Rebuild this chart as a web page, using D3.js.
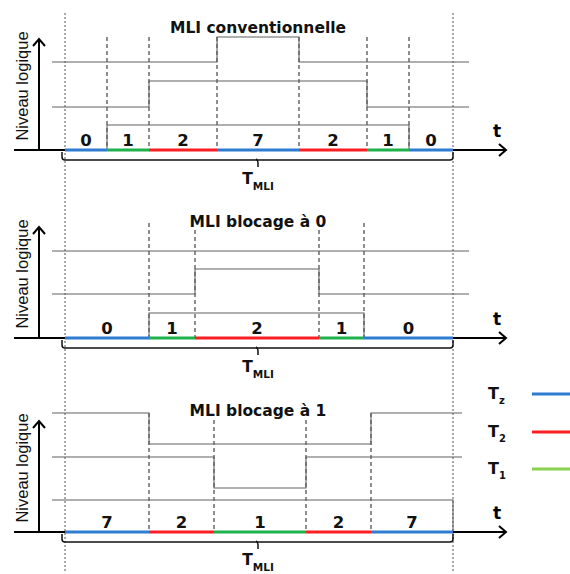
<!DOCTYPE html>
<html><head><meta charset="utf-8">
<script src="https://cdn.jsdelivr.net/npm/d3@7"></script>
<style>body{margin:0;background:#fff}svg{display:block}</style>
</head><body>
<script>
// ---- data ----
const panelTitles = ["MLI conventionnelle", "MLI blocage à 0", "MLI blocage à 1"];
const stateLabels1 = ["0","1","2","7","2","1","0"];
const durations1   = [42,42,68,82,68,42,44];
const stateLabels2 = ["0","1","2","1","0"];
const durations2   = [84,46,124,45,89];
const stateLabels3 = ["7","2","1","2","7"];
const durations3   = [84,65,92,65,82];
// logic levels of the three phase signals (lowest A, middle B, top C)
const levelsA1 = [0,25,25,25,25,25,0];
const levelsB1 = [43,43,69,69,69,43,43];
const levelsC1 = [88,88,88,113,88,88,88];
const levelsA2 = [0,25,25,25,0];
const levelsB2 = [44,44,69,44,44];
const levelsC2 = [87,87,87,87,87];
const levelsA3 = [32,32,32,32,32];
const levelsB3 = [75,75,44,75,75];
const levelsC3 = [119,88,88,88,119];
const postLevelA3 = 0;
const legendKeys = ["z","2","1"];

// ---- layout ----
const W = 570, H = 574;
const svg = d3.select("body").append("svg").attr("width", W).attr("height", H);
const x = d3.scaleLinear().domain([0, 388]).range([65, 453]);
const colorOf = {z: "#2d7cd2", "2": "#fb1e22", "1": "#1fb14c"};
const legendColor = {z: "#2d7cd2", "2": "#fb1e22", "1": "#88d04e"};
const typeOf = s => (s === "0" || s === "7") ? "z" : s;

const panels = [
  {title: panelTitles[0], labels: stateLabels1, durs: durations1, levels: [levelsA1, levelsB1, levelsC1], post: [null,null,null], base: 150, titleY: 33, dashTop: 113, ext: 404, tmY: 34},
  {title: panelTitles[1], labels: stateLabels2, durs: durations2, levels: [levelsA2, levelsB2, levelsC2], post: [null,null,null], base: 338, titleY: 227, dashTop: 115, ext: 404, tmY: 34},
  {title: panelTitles[2], labels: stateLabels3, durs: durations3, levels: [levelsA3, levelsB3, levelsC3], post: [postLevelA3,null,null], base: 532, titleY: 416, dashTop: 119, ext: 397, tmY: 33}
];

// outer dotted period lines
svg.selectAll("line.outer").data([0, 388]).join("line")
  .attr("x1", d => x(d)).attr("x2", d => x(d)).attr("y1", 13).attr("y2", 572)
  .attr("stroke", "#555").attr("stroke-width", 1).attr("stroke-dasharray", "2,2");

const bold = "'DejaVu Sans', sans-serif";

panels.forEach(p => {
  const g = svg.append("g");
  const y = d3.scaleLinear().domain([0, 120]).range([p.base, p.base - 120]);
  const starts = [];
  let acc = 0;
  p.durs.forEach(d => { starts.push(acc); acc += d; });
  const segs = p.durs.map((d, i) => ({t0: starts[i], t1: starts[i] + d, label: p.labels[i]}));

  // inner dashed lines
  g.selectAll("line.inner").data(starts.slice(1)).join("line")
    .attr("x1", d => x(d)).attr("x2", d => x(d))
    .attr("y1", y(p.dashTop)).attr("y2", y(0))
    .attr("stroke", "#444").attr("stroke-width", 1.2).attr("stroke-dasharray", "4,3");

  // waveforms
  const line = d3.line().x(d => x(d.t)).y(d => y(d.v)).curve(d3.curveStepAfter);
  p.levels.forEach((lv, k) => {
    const post = p.post[k] == null ? lv[lv.length - 1] : p.post[k];
    const pts = [{t: -13, v: lv[0]}];
    starts.slice(1).forEach((s, i) => pts.push({t: s, v: lv[i + 1]}));
    pts.push({t: 388, v: post});
    pts.push({t: p.ext, v: post});
    g.append("path").attr("d", line(pts)).attr("fill", "none")
      .attr("stroke", "#606060").attr("stroke-width", 1.1);
  });

  // axes
  g.append("line").attr("x1", 14).attr("x2", 506).attr("y1", p.base).attr("y2", p.base)
    .attr("stroke", "#000").attr("stroke-width", 2);
  g.append("path").attr("d", `M499,${p.base - 6} L506,${p.base} L499,${p.base + 6}`)
    .attr("fill", "none").attr("stroke", "#000").attr("stroke-width", 2);
  g.append("line").attr("x1", 39).attr("x2", 39).attr("y1", p.base).attr("y2", p.base - 111)
    .attr("stroke", "#000").attr("stroke-width", 2);
  g.append("path").attr("d", `M33,${p.base - 104} L39,${p.base - 111} L45,${p.base - 104}`)
    .attr("fill", "none").attr("stroke", "#000").attr("stroke-width", 2);

  // coloured duration bars
  g.selectAll("line.seg").data(segs).join("line")
    .attr("x1", d => x(d.t0)).attr("x2", d => x(d.t1))
    .attr("y1", p.base).attr("y2", p.base)
    .attr("stroke", d => colorOf[typeOf(d.label)]).attr("stroke-width", 3.2);

  // state labels
  g.selectAll("text.st").data(segs).join("text")
    .attr("x", d => x((d.t0 + d.t1) / 2)).attr("y", p.base - 4)
    .attr("text-anchor", "middle").attr("font-family", bold).attr("font-weight", "bold")
    .attr("font-size", 16.5).attr("fill", "#111").text(d => d.label);

  // t label
  g.append("text").attr("x", 497).attr("y", p.base - 13).attr("text-anchor", "middle")
    .attr("font-family", bold).attr("font-weight", "bold").attr("font-size", 17).text("t");

  // y label
  g.append("text").attr("transform", `translate(28,${p.base - 64}) rotate(-90)`)
    .attr("text-anchor", "middle").attr("font-family", "'Liberation Sans', Arial, sans-serif")
    .attr("font-size", 16.5).attr("fill", "#111").text("Niveau logique");

  // bracket
  const by = p.base + 10;
  g.append("path").attr("d", `M62,${p.base + 2} V${by - 3} Q62,${by} 65,${by} H450 Q453,${by} 453,${by - 3} V${p.base + 2}`)
    .attr("fill", "none").attr("stroke", "#111").attr("stroke-width", 1.5);
  g.append("path").attr("d", `M256,${by - 1} Q258,${by} 258,${by + 3} V${by + 7}`)
    .attr("fill", "none").attr("stroke", "#111").attr("stroke-width", 1.5);

  const tm = g.append("text").attr("x", 258).attr("y", p.base + p.tmY).attr("text-anchor", "middle")
    .attr("font-family", bold).attr("font-weight", "bold").attr("font-size", 15.5).attr("fill", "#111");
  tm.append("tspan").text("T");
  tm.append("tspan").attr("dy", 6).attr("font-size", 10.5).text("MLI");

  // title with white backing
  const tt = g.append("text").attr("x", 258).attr("y", p.titleY).attr("text-anchor", "middle")
    .attr("font-family", bold).attr("font-weight", "bold").attr("font-size", 15.5).attr("fill", "#111")
    .text(p.title);
  const bb = tt.node().getBBox();
  g.insert("rect", () => tt.node()).attr("x", bb.x - 2).attr("y", bb.y + 2)
    .attr("width", bb.width + 4).attr("height", bb.height - 3).attr("fill", "#fff");
});

// legend
const legY = [394, 432, 469];
const lg = svg.append("g");
legendKeys.forEach((k, i) => {
  lg.append("line").attr("x1", 532).attr("x2", 572).attr("y1", legY[i]).attr("y2", legY[i])
    .attr("stroke", legendColor[k]).attr("stroke-width", 3.2);
  const t = lg.append("text").attr("x", 488).attr("y", legY[i] + 5)
    .attr("font-family", bold).attr("font-weight", "bold").attr("font-size", 16).attr("fill", "#111");
  t.append("tspan").text("T");
  t.append("tspan").attr("dy", 5).attr("font-size", 10).text(k);
});
</script>
</body></html>
